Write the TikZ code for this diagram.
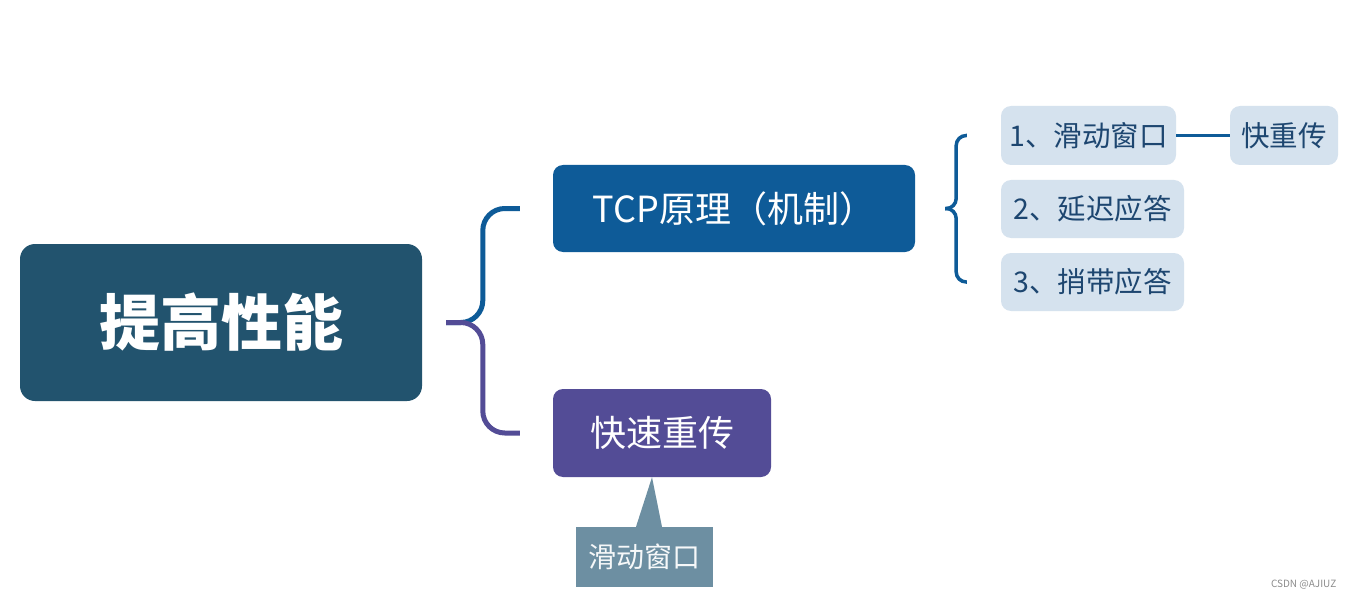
\documentclass[tikz,border=0pt]{standalone}
\usepackage{fontspec}
\setmainfont{Noto Sans CJK SC}
\usetikzlibrary{positioning}

\definecolor{rootcol}{HTML}{22536E}
\definecolor{tcpcol}{HTML}{0E5B98}
\definecolor{fastcol}{HTML}{534C96}
\definecolor{subcol}{HTML}{D5E2EE}
\definecolor{subtext}{HTML}{1D4670}
\definecolor{notecol}{HTML}{6D8FA2}

\tikzset{
  rootbox/.style={fill=rootcol, text=white, rounded corners=15pt, inner sep=0pt,
    font=\fontsize{61}{64}\selectfont\bfseries},
  topicbox/.style={rounded corners=10pt, inner sep=0pt, text=white,
    font=\fontsize{36}{40}\selectfont},
  subbox/.style={fill=subcol, text=subtext, rounded corners=10pt, inner sep=0pt,
    minimum height=58pt, font=\fontsize{28.5}{31}\selectfont},
  notebox/.style={fill=notecol, text=white!94!notecol, inner sep=0pt,
    minimum width=137pt, minimum height=60pt, font=\fontsize{28}{30}\selectfont},
  bracer/.style={line width=5pt, rounded corners=22pt},
  bracesmall/.style={line width=3.5pt, rounded corners=10pt, tcpcol}
}

\begin{document}
\begin{tikzpicture}[x=1pt, y=-1pt]
  \useasboundingbox[fill=white] (0,0) rectangle (1350,599);

  % main topics
  \node[rootbox, minimum width=402pt, minimum height=157pt] (root) at (221,322.5) {提高性能};
  \node[topicbox, fill=tcpcol, minimum width=362pt, minimum height=87pt] (tcp) at (734,208.5) {TCP原理（机制）};
  \node[topicbox, fill=fastcol, minimum width=218pt, minimum height=88pt] (fast) at (662,433) {快速重传};

  % sub topics
  \node[subbox, minimum width=175pt, minimum height=59pt] (slide) at (1088.5,135.5) {1、滑动窗口};
  \node[subbox, minimum width=183pt] (delay) at (1092.5,209) {2、延迟应答};
  \node[subbox, minimum width=183pt] (piggy) at (1092.5,282) {3、捎带应答};
  \node[subbox, minimum width=108pt, minimum height=59pt] (quick) at (1284,135.5) {快重传};

  % note
  \node[notebox] (note) at (644.5,557) {滑动窗口};
  \fill[notecol] ([xshift=-8.5pt]note.north) -- ([xshift=17.5pt]note.north) -- ([xshift=-10pt]fast.south) -- cycle;

  % braces
  \coordinate (rootbr) at ([xshift=24pt]root.east);
  \coordinate (tcpbr) at ([xshift=-33pt]tcp.west);
  \coordinate (fastbr) at ([xshift=-33pt]fast.west);
  \draw[bracer, tcpcol] (rootbr) -| ([xshift=-37pt]tcpbr) -- (tcpbr);
  \draw[bracer, fastcol] (rootbr) -| ([xshift=-37pt]fastbr) -- (fastbr);

  \coordinate (subbr) at ([xshift=30pt]tcp.east);
  \coordinate (slidebr) at ([xshift=-34pt]slide.west);
  \coordinate (piggybr) at ([xshift=-34pt]piggy.west);
  \draw[bracesmall] (slidebr) -| ([xshift=11pt]subbr) -- (subbr);
  \draw[bracesmall] (piggybr) -| ([xshift=11pt]subbr) -- (subbr);

  \draw[tcpcol, line width=3pt] (slide.east) -- (quick.west);

  \node[anchor=east, text=black!45, font=\fontsize{10}{12}\selectfont] (wm) at (1340,585) {CSDN @AJIUZ};
\end{tikzpicture}
\end{document}
